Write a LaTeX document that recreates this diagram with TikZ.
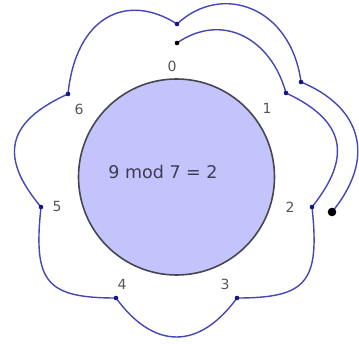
\documentclass[tikz,border=0pt]{standalone}
\usepackage{fontspec}
\setmainfont{DejaVu Sans}
\definecolor{spiral}{RGB}{70,70,180}
\definecolor{spiraldot}{RGB}{20,20,140}
\definecolor{diskfill}{RGB}{196,196,252}
\definecolor{diskline}{RGB}{70,70,80}
\definecolor{labelgray}{RGB}{85,85,90}
\definecolor{sumgray}{RGB}{60,60,80}
\tikzset{
  curve/.style={draw=spiral, line width=1.4pt},
  disk/.style={circle, draw=diskline, fill=diskfill, line width=1.6pt, minimum size=196pt, inner sep=0pt},
  hourlabel/.style={text=labelgray, font=\fontsize{14}{16}\selectfont, inner sep=0pt},
  sumlabel/.style={text=sumgray, font=\fontsize{17.5}{20}\selectfont, inner sep=0pt},
  bluedot/.style={fill=spiraldot},
}
\begin{document}
\begin{tikzpicture}[x=1pt, y=-1pt]
  \useasboundingbox (0,0) rectangle (359,344);
  \fill[white] (0,0) rectangle (359,344);

  % the clock face
  \node[disk] (face) at (176.5,177) {};
  \node[sumlabel] (sum) at (163,172) {9 mod 7 = 2};

  % hour labels
  \node[hourlabel] (h0) at (172,66) {0};
  \node[hourlabel] (h1) at (267,108) {1};
  \node[hourlabel] (h2) at (290,207) {2};
  \node[hourlabel] (h3) at (225,284) {3};
  \node[hourlabel] (h4) at (122,284) {4};
  \node[hourlabel] (h5) at (57,206) {5};
  \node[hourlabel] (h6) at (79,109) {6};

  % turning points of the counting path
  \coordinate (start) at (177,43);
  \coordinate (p1) at (286,93);
  \coordinate (p2) at (312,207);
  \coordinate (p3) at (237,298);
  \coordinate (p4) at (116,298);
  \coordinate (p5) at (41,207);
  \coordinate (p6) at (68,94);
  \coordinate (q0) at (177,24);
  \coordinate (q1) at (301,82);
  \coordinate (stop) at (332,212);

  % the path counting nine steps round the clock
  \draw[curve] (start) .. controls +(45,-31) and +(-15,-55) .. (p1)
    .. controls +(60,28) and +(40,-50) .. (p2)
    .. controls +(8,75) and +(70,0) .. (p3)
    .. controls +(-38,52) and +(38,52) .. (p4)
    .. controls +(-70,0) and +(-8,75) .. (p5)
    .. controls +(-42,-50) and +(-62,28) .. (p6)
    .. controls +(8,-78) and +(-50,-32) .. (q0)
    .. controls +(45,-42) and +(-10,-75) .. (q1)
    .. controls +(60,25) and +(45,-55) .. (stop);

  % markers
  \foreach \p in {p1,p2,p3,p4,p5,p6,q0,q1}
    \fill[bluedot] (\p) circle (2.3pt);
  \fill[black] (start) circle (2.3pt);
  \fill[black] (stop) circle (4.3pt);
\end{tikzpicture}
\end{document}
